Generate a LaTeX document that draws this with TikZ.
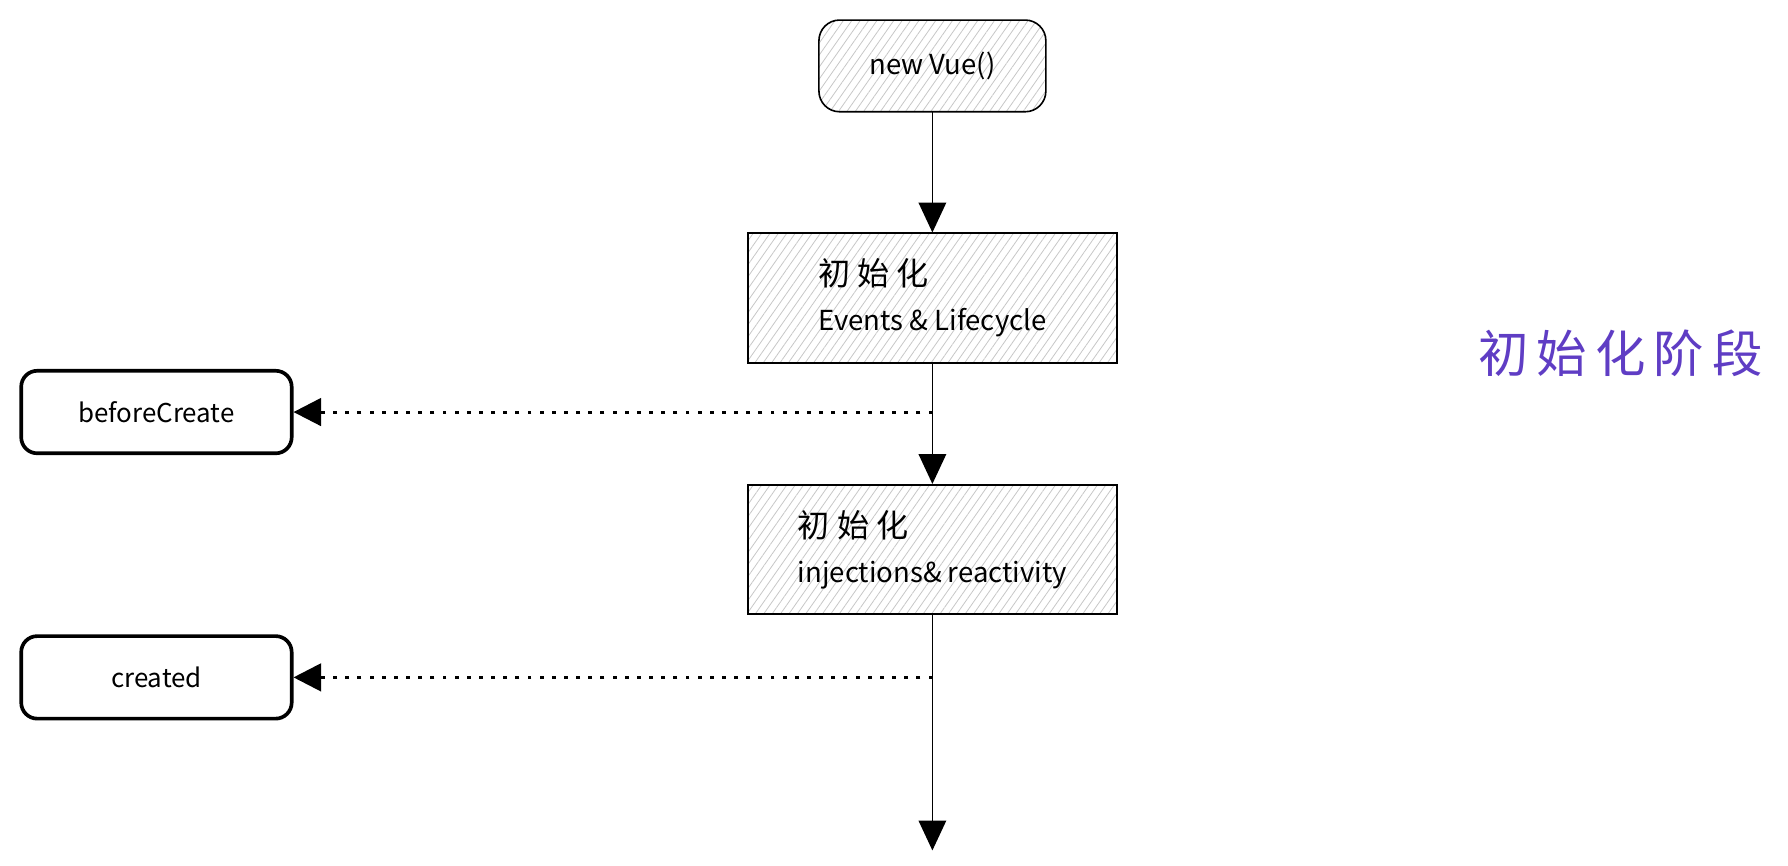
\documentclass[tikz,border=0pt]{standalone}
\usepackage{fontspec}
\setmainfont{Noto Sans CJK SC}
\newfontfamily\boxcjk[LetterSpace=22]{Noto Sans CJK SC}
\newfontfamily\stagefont[LetterSpace=16]{Noto Sans CJK SC}
\usetikzlibrary{positioning,patterns.meta,arrows.meta}
\definecolor{stagecol}{HTML}{5F3DC4}

\begin{document}
\begin{tikzpicture}[x=0.5pt,y=-0.5pt,
    node distance=52.5pt,
    hatched/.style={draw,line width=0.7pt,pattern={Lines[angle=55,distance=3pt,line width=0.35pt]},pattern color=black!22,font=\fontsize{12}{19.5}\selectfont,align=left},
    hook/.style={draw,line width=1.6pt,rounded corners=7pt,minimum width=118pt,minimum height=36pt,font=\fontsize{11.3}{13}\selectfont},
    flow/.style={line width=0.6pt,-{Triangle[length=13pt,width=12pt]}},
    call/.style={line width=1.3pt,dash pattern=on 1.7pt off 3.6pt,-{Triangle[length=12pt,width=12pt]}}]
    \useasboundingbox (0,0) rectangle (1560,755);
	\node [hatched,rounded corners=9pt,minimum width=99pt,minimum height=40pt] (vue) at (813.5,57.5) {new Vue()};
    \node [hatched,minimum width=161pt,minimum height=56.5pt,below=of vue] (ev) {{\boxcjk\fontsize{14}{19.5}\selectfont 初始化}\\Events \& Lifecycle};
    \node [hatched,minimum width=161pt,minimum height=56.5pt,below=of ev] (inj) {{\boxcjk\fontsize{14}{19.5}\selectfont 初始化}\\injections\& reactivity};
    \node [hook] (bc) at (136.5,359.5) {beforeCreate};
    \node [hook] (cr) at (136.5,591) {created};
    \node [text=stagecol,font=\stagefont\fontsize{22}{26}\selectfont] (stage) at (1414,308) {初始化阶段};
    \coordinate (end) at (813.5,742);

    \draw [flow] (vue) -- (ev);
    \draw [flow] (ev) -- (inj);
    \draw [flow] (inj) -- (end);
    \draw [call] (ev.south |- bc.east) -- (bc.east);
    \draw [call] (inj.south |- cr.east) -- (cr.east);
\end{tikzpicture}
\end{document}
